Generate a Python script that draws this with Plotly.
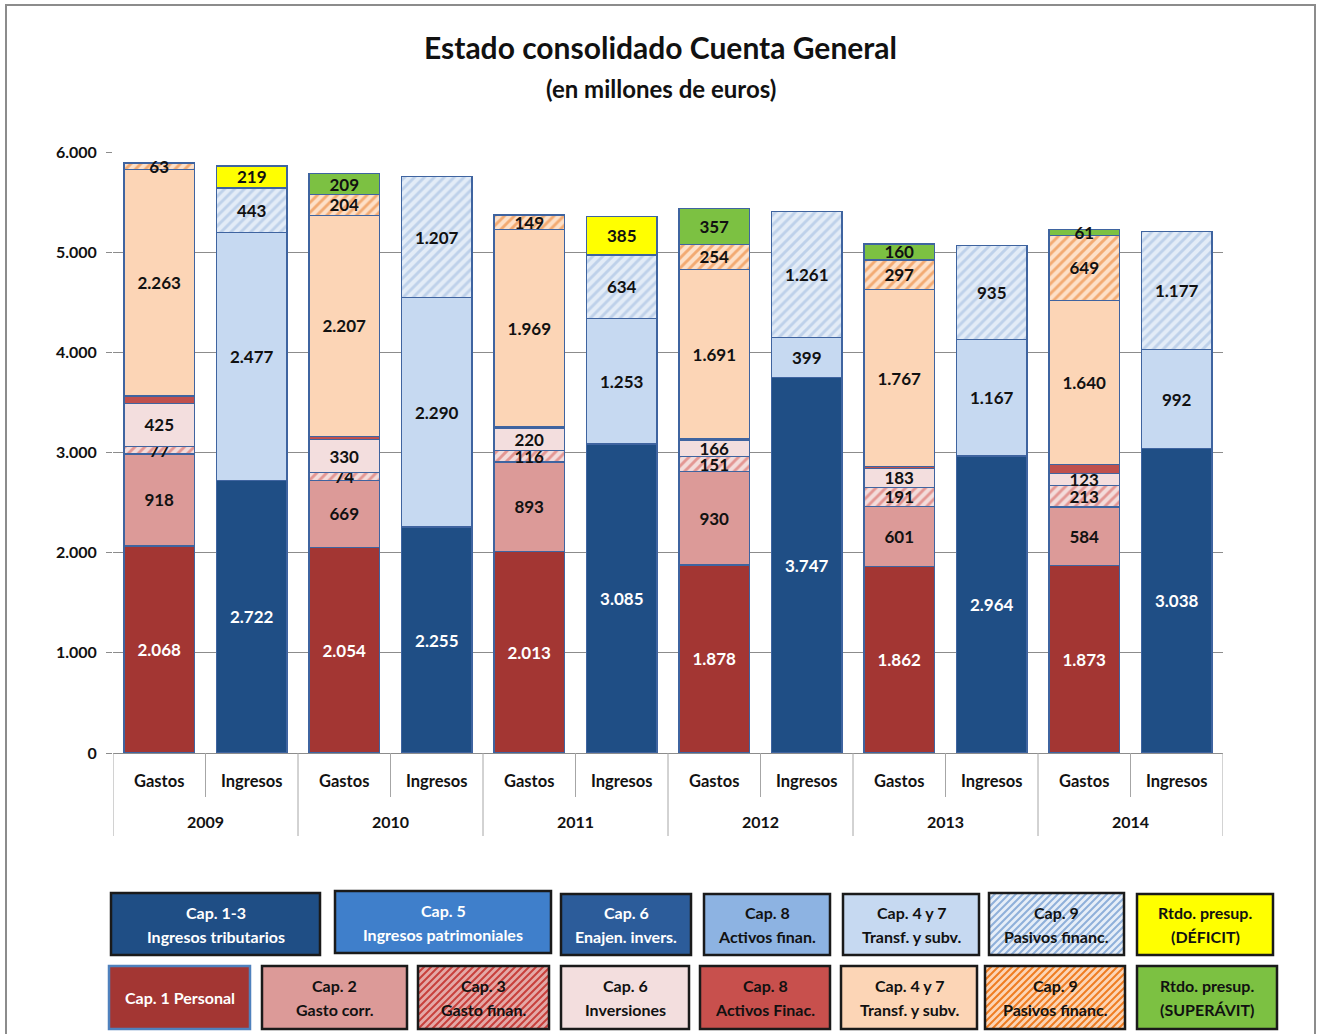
import plotly.graph_objects as go

# ---------------- DATA ----------------
years = ["2009", "2010", "2011", "2012", "2013", "2014"]
sides = ["Gastos", "Ingresos"]

# Gastos (stacked bottom -> top)
g_cap1 = [2068, 2054, 2013, 1878, 1862, 1873]
g_cap2 = [918, 669, 893, 930, 601, 584]
g_cap3 = [77, 74, 116, 151, 191, 213]
g_cap6 = [425, 330, 220, 166, 183, 123]
g_cap8 = [75, 35, 12, 10, 22, 85]
g_cap47 = [2263, 2207, 1969, 1691, 1767, 1640]
g_cap9 = [63, 204, 149, 254, 297, 649]
g_superavit = [0, 209, 0, 357, 160, 61]

# Ingresos (stacked bottom -> top)
i_cap13 = [2722, 2255, 3085, 3747, 2964, 3038]
i_cap5 = [0, 0, 0, 0, 0, 0]
i_cap6 = [0, 0, 0, 0, 0, 0]
i_cap8 = [0, 0, 0, 0, 0, 0]
i_cap47 = [2477, 2290, 1253, 399, 1167, 992]
i_cap9 = [443, 1207, 634, 1261, 935, 1177]
i_deficit = [219, 0, 385, 0, 0, 0]

y_ticks = [0, 1000, 2000, 3000, 4000, 5000, 6000]

# ---------------- STYLE ----------------
W, H = 1317, 1034
FONT = "Lato, Roboto, sans-serif"
OUTLINE = "#3f64a0"
DARK = "#111111"


def px(x):
    return x / W


def py(y):
    return 1 - y / H


series = [
    # name, values, side, color, hatch colour or None, text color, show labels
    ("Cap. 1 Personal", g_cap1, 0, "#a33633", None, "white", True),
    ("Cap. 2 Gasto corr.", g_cap2, 0, "#dc9a98", None, DARK, True),
    ("Cap. 3 Gasto finan.", g_cap3, 0, "#f3dcdb", "#d4504c", DARK, True),
    ("Cap. 6 Inversiones", g_cap6, 0, "#f3dede", None, DARK, True),
    ("Cap. 8 Activos Finac.", g_cap8, 0, "#c0504d", None, DARK, False),
    ("Cap. 4 y 7 Transf. y subv.", g_cap47, 0, "#fcd5b6", None, DARK, True),
    ("Cap. 9 Pasivos financ.", g_cap9, 0, "#fde0c8", "#e8731b", DARK, True),
    ("Rtdo. presup. (SUPERÁVIT)", g_superavit, 0, "#7cc142", None, DARK, True),
    ("Cap. 1-3 Ingresos tributarios", i_cap13, 1, "#1f4e85", None, "white", True),
    ("Cap. 5 Ingresos patrimoniales", i_cap5, 1, "#3f7fcb", None, "white", False),
    ("Cap. 6 Enajen. invers.", i_cap6, 1, "#2c5c9a", None, "white", False),
    ("Cap. 8 Activos finan.", i_cap8, 1, "#8db3e2", None, DARK, False),
    ("Cap. 4 y 7 Transf. y subv. (I)", i_cap47, 1, "#c6d9f1", None, DARK, True),
    ("Cap. 9 Pasivos financ. (I)", i_cap9, 1, "#e3ecf7", "#9ab6dd", DARK, True),
    ("Rtdo. presup. (DÉFICIT)", i_deficit, 1, "#ffff00", None, DARK, True),
]

fig = go.Figure()

for name, vals, side, color, patt, tcol, show in series:
    if all(v == 0 for v in vals):
        continue
    xs = [2 * i + side for i in range(len(years))]
    ys = [v if v else None for v in vals]
    txt = [f"{v:,}".replace(",", ".") if (v and show) else "" for v in vals]
    marker = dict(color=color, line=dict(color=OUTLINE, width=1.3))
    if patt:
        marker["pattern"] = dict(shape="/", bgcolor=color, fgcolor=patt,
                                 size=7, solidity=0.42)
    fig.add_trace(go.Bar(
        x=xs, y=ys, name=name, marker=marker, text=txt,
        textposition="inside", insidetextanchor="middle", textangle=0,
        constraintext="none",
        textfont=dict(family=FONT, size=17, color=tcol, weight="bold"),
        hoverinfo="skip", showlegend=False,
    ))

shapes = []
annotations = []


def label(x, y, text, size, color=DARK, xref="paper", yref="paper"):
    annotations.append(dict(x=x, y=y, xref=xref, yref=yref, text=text,
                            showarrow=False, xanchor="center", yanchor="middle",
                            font=dict(family=FONT, size=size, color=color, weight="bold")))


# Category axis labels and dividers
n = 2 * len(years)
for k in range(n + 1):
    is_year_edge = (k % 2 == 0)
    shapes.append(dict(type="line", xref="x", yref="paper",
                       x0=k - 0.5, x1=k - 0.5, y0=py(753),
                       y1=py(836 if is_year_edge else 797),
                       line=dict(color="#a6a6a6", width=1)))
for i, yr in enumerate(years):
    for s, lab in enumerate(sides):
        label(2 * i + s, py(781), lab, 16.5, xref="x")
    label(2 * i + 0.5, py(821), yr, 16, xref="x")

# Titles
label(px(660), py(47), "Estado consolidado Cuenta General", 30)
label(px(661), py(88), "(en millones de euros)", 24)

# Outer frame
shapes.append(dict(type="rect", xref="paper", yref="paper",
                   x0=px(6), x1=px(1315), y0=py(1060), y1=py(5),
                   line=dict(color="#8c8c8c", width=2), fillcolor="rgba(0,0,0,0)", layer="below"))

# Legend boxes (layout): lines, x0, y0, x1, y1, fill, hatch, text color, border
legend_boxes = [
    (["Cap. 1-3", "Ingresos tributarios"], 111, 893, 320, 955, "#1f4e85", None, "white", "#1a1a1a"),
    (["Cap. 5", "Ingresos patrimoniales"], 335, 891, 551, 953, "#3f7fcb", None, "white", "#1a1a1a"),
    (["Cap. 6", "Enajen. invers."], 561, 894, 691, 955, "#2c5c9a", None, "white", "#1a1a1a"),
    (["Cap. 8", "Activos finan."], 704, 894, 830, 955, "#8db3e2", None, DARK, "#1a1a1a"),
    (["Cap. 4 y 7", "Transf. y subv."], 843, 894, 979, 955, "#c6d9f1", None, DARK, "#1a1a1a"),
    (["Cap. 9", "Pasivos financ."], 989, 893, 1124, 955, "#e6eef8", "#8fb0da", DARK, "#1a1a1a"),
    (["Rtdo. presup.", "(DÉFICIT)"], 1137, 894, 1273, 955, "#ffff00", None, DARK, "#1a1a1a"),
    (["Cap. 1 Personal"], 109, 966, 250, 1029, "#a33633", None, "white", "#4f81bd"),
    (["Cap. 2", "Gasto corr."], 262, 966, 407, 1029, "#dc9a98", None, DARK, "#1a1a1a"),
    (["Cap. 3", "Gasto finan."], 418, 966, 549, 1029, "#e4a9a7", "#c8403c", DARK, "#1a1a1a"),
    (["Cap. 6", "Inversiones"], 561, 966, 689, 1029, "#f3dede", None, DARK, "#1a1a1a"),
    (["Cap. 8", "Activos Finac."], 700, 966, 830, 1029, "#c8504d", None, DARK, "#1a1a1a"),
    (["Cap. 4 y 7", "Transf. y subv."], 841, 966, 977, 1029, "#fcd5b6", None, DARK, "#1a1a1a"),
    (["Cap. 9", "Pasivos financ."], 985, 966, 1125, 1029, "#fcd5b6", "#ef7d22", DARK, "#1a1a1a"),
    (["Rtdo. presup.", "(SUPERÁVIT)"], 1137, 966, 1277, 1029, "#7cc142", None, DARK, "#1a1a1a"),
]

for lines, x0, y0, x1, y1, fill, hatch, tcol, border in legend_boxes:
    shapes.append(dict(type="rect", xref="paper", yref="paper",
                       x0=px(x0), x1=px(x1), y0=py(y1), y1=py(y0),
                       fillcolor=fill, line=dict(width=0)))
    if hatch:
        step = 7
        segs = []
        c = x0 + y0 + step
        while c < x1 + y1:
            xa = max(x0, c - y1)
            ya = c - xa
            xb = min(x1, c - y0)
            yb = c - xb
            segs.append(f"M{px(xa):.5f},{py(ya):.5f}L{px(xb):.5f},{py(yb):.5f}")
            c += step
        shapes.append(dict(type="path", xref="paper", yref="paper",
                           path="".join(segs), line=dict(color=hatch, width=2)))
    shapes.append(dict(type="rect", xref="paper", yref="paper",
                       x0=px(x0), x1=px(x1), y0=py(y1), y1=py(y0),
                       fillcolor="rgba(0,0,0,0)", line=dict(color=border, width=2.5)))
    cx = (x0 + x1) / 2
    cy = (y0 + y1) / 2
    if len(lines) == 1:
        label(px(cx), py(cy), lines[0], 16, tcol)
    else:
        label(px(cx), py(cy - 12), lines[0], 16, tcol)
        label(px(cx), py(cy + 12), lines[1], 16, tcol)

fig.update_layout(
    width=W, height=H,
    margin=dict(l=0, r=0, t=0, b=0),
    paper_bgcolor="white", plot_bgcolor="white",
    barmode="stack", bargap=0.24,
    separators=",.",
    showlegend=False,
    xaxis=dict(domain=[px(113), px(1223)], range=[-0.5, n - 0.5],
               showticklabels=False, showgrid=False, zeroline=False,
               showline=False, ticks="", fixedrange=True),
    yaxis=dict(domain=[py(753), py(152)], range=[0, 6000],
               tickvals=y_ticks, tickformat=",d",
               showgrid=True, gridcolor="#8c8c8c", gridwidth=1,
               zeroline=True, zerolinecolor="#8c8c8c", zerolinewidth=1,
               showline=False, ticks="outside", ticklen=6, tickcolor="#8c8c8c",
               ticklabelstandoff=6,
               tickfont=dict(family=FONT, size=16, color=DARK, weight="bold"),
               automargin=False, fixedrange=True),
    shapes=shapes,
    annotations=annotations,
)

fig.write_html("out.html", config={"displayModeBar": False},
               post_script="document.body.style.margin='0px';")
